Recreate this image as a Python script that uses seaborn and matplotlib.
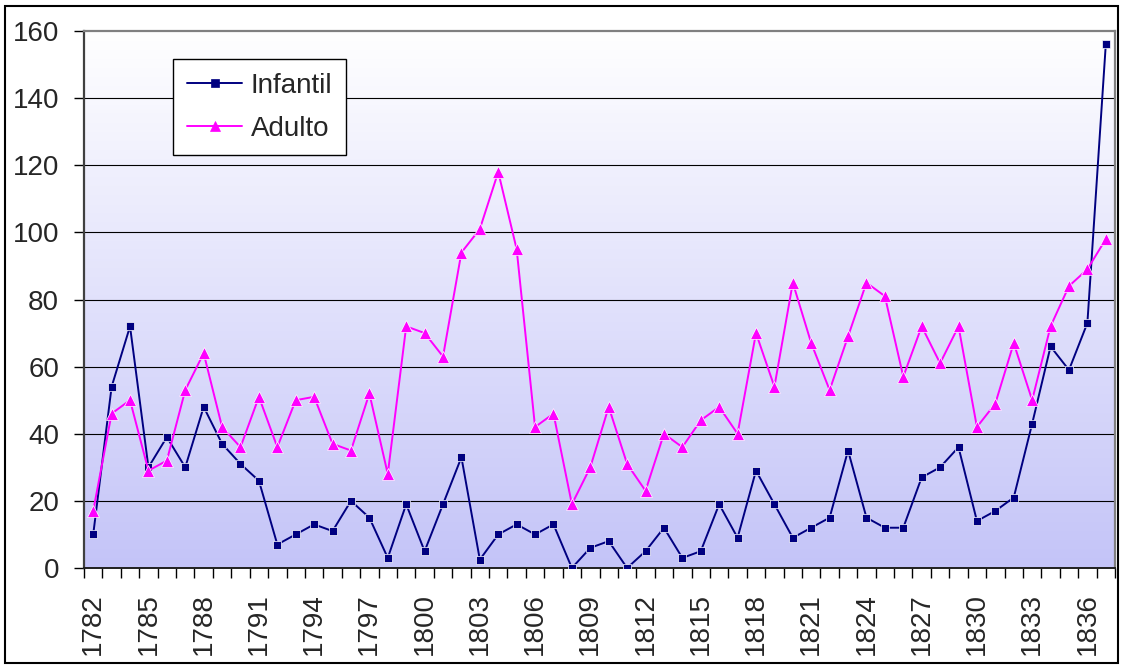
import numpy as np
import pandas as pd
import matplotlib
matplotlib.use("Agg")
import matplotlib.pyplot as plt
import matplotlib.patches as patches
from matplotlib.colors import LinearSegmentedColormap
import seaborn as sns

years = list(range(1782, 1838))

infantil = [10, 54, 72, 30, 39, 30, 48, 37, 31, 26,
            7, 10, 13, 11, 20, 15, 3, 19, 5, 19,
            33, 2.5, 10, 13, 10, 13, 0, 6, 8, 0,
            5, 12, 3, 5, 19, 9, 29, 19, 9, 12,
            15, 35, 15, 12, 12, 27, 30, 36, 14, 17,
            21, 43, 66, 59, 73, 156]

adulto = [17, 46, 50, 29, 32, 53, 64, 42, 36, 51,
          36, 50, 51, 37, 35, 52, 28, 72, 70, 63,
          94, 101, 118, 95, 42, 46, 19, 30, 48, 31,
          23, 40, 36, 44, 48, 40, 70, 54, 85, 67,
          53, 69, 85, 81, 57, 72, 61, 72, 42, 49,
          67, 50, 72, 84, 89, 98]

series_names = ["Infantil", "Adulto"]
series_colors = ["#000080", "#FF00FF"]
series_markers = ["s", "^"]

yticks = [0, 20, 40, 60, 80, 100, 120, 140, 160]

sns.set_style("white")
plt.rcParams["font.family"] = ["Liberation Sans", "DejaVu Sans"]

df = pd.DataFrame({
    "pos": list(range(len(years))) * 2,
    "valor": infantil + adulto,
    "serie": ["Infantil"] * len(years) + ["Adulto"] * len(years),
})

fig = plt.figure(figsize=(11.22, 6.65), dpi=100)
ax = fig.add_axes([84 / 1122, 1 - 568 / 665, (1115 - 84) / 1122, (568 - 31) / 665])

# gradient background: white at top, lavender at the bottom
cmap = LinearSegmentedColormap.from_list("bg", ["#FFFFFF", "#C4C4F8"])
grad = np.linspace(1, 0, 256).reshape(-1, 1)
ax.imshow(grad, cmap=cmap, extent=[-0.5, len(years) - 0.5, 0, 160],
          aspect="auto", zorder=0, origin="lower")

for g in yticks[1:-1]:
    ax.axhline(g, color="black", lw=0.8, zorder=1)

sns.lineplot(data=df, x="pos", y="valor", hue="serie", style="serie",
             hue_order=series_names, style_order=series_names,
             palette=series_colors, markers=series_markers, dashes=False,
             linewidth=1.4, markersize=7, markeredgewidth=0.5,
             ax=ax, zorder=3, legend=False)

marker_sizes = {"s": 6.3, "^": 8.0}
for line in ax.lines:
    if line.get_marker() in marker_sizes:
        line.set_markersize(marker_sizes[line.get_marker()])

ax.set_xlim(-0.5, len(years) - 0.5)
ax.set_ylim(0, 160)
ax.set_xlabel("")
ax.set_ylabel("")

ax.set_yticks(yticks)
ax.set_yticklabels([str(v) for v in yticks], fontsize=20)
ax.tick_params(axis="y", direction="out", length=7, width=1, pad=11, left=True,
               color="black")

ax.set_xticks(range(0, len(years), 3))
ax.set_xticklabels([str(years[i]) for i in range(0, len(years), 3)],
                   rotation=90, fontsize=20)
ax.set_xticks(np.arange(-0.5, len(years), 1), minor=True)
ax.tick_params(axis="x", which="major", length=0, pad=18, bottom=True)
ax.tick_params(axis="x", which="minor", direction="out", length=7, width=1,
               bottom=True, color="black")

for side in ["top", "right"]:
    ax.spines[side].set_color("#808080")
    ax.spines[side].set_linewidth(1.6)
ax.spines["left"].set_color("#404040")
ax.spines["left"].set_linewidth(1.6)
ax.spines["bottom"].set_color("#202020")
ax.spines["bottom"].set_linewidth(1.4)

handles = [plt.Line2D([], [], color=c, marker=m, lw=1.4, markersize=marker_sizes[m] * 0.9,
                      markeredgewidth=0.5)
           for c, m in zip(series_colors, series_markers)]
leg = ax.legend(handles, series_names, loc="upper left",
                bbox_to_anchor=(173 / 1122, 1 - 59 / 665),
                bbox_transform=fig.transFigure, borderaxespad=0,
                fontsize=20, frameon=True, fancybox=False, framealpha=1,
                handlelength=2.0, handletextpad=0.3, borderpad=0.5,
                labelspacing=0.6)
leg.get_frame().set_edgecolor("black")
leg.get_frame().set_linewidth(1.0)
leg.set_zorder(5)

fig.patches.append(patches.Rectangle((5 / 1122, 1 - 663 / 665), 1113 / 1122, 657 / 665,
                                     transform=fig.transFigure, fill=False,
                                     edgecolor="black", linewidth=1.5))

fig.savefig("out.png", dpi=100)
